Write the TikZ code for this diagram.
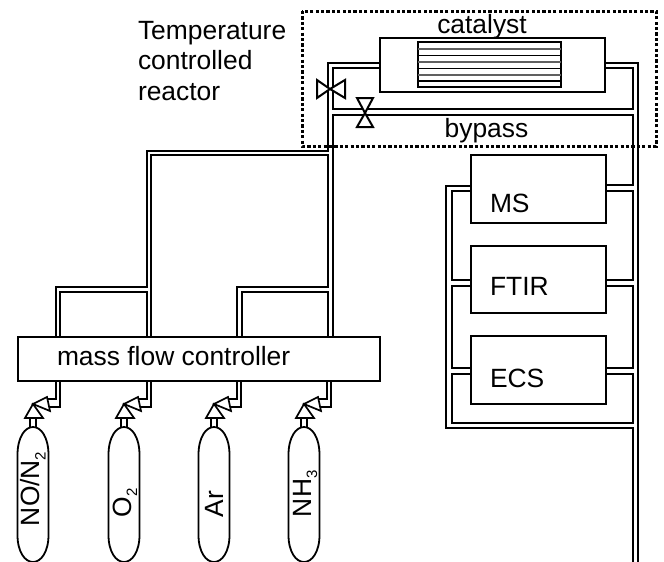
\documentclass[tikz,border=0pt]{standalone}
\usepackage{fontspec}
\setmainfont{Liberation Sans}
\newcommand{\subdig}[1]{\raisebox{-6pt}{\fontsize{15}{15}\selectfont #1}}
\tikzset{
  x=1pt,y=-1pt,
  lbl/.style={inner sep=0pt,outer sep=0pt,font=\fontsize{26.4}{30.5}\selectfont},
  box/.style={draw,line width=1.7pt,fill=white,inner sep=0pt,outer sep=0pt},
  pipe/.style={line width=1.7pt,line join=miter},
  valve/.style={draw,line width=2pt,fill=white,line join=miter},
  bottle/.style={draw,line width=1.8pt,fill=white},
  reactor/.style={line width=3pt,dash pattern=on 3.2pt off 2.2pt},
  stripe/.style={line width=1.4pt},
  stripeg/.style={line width=2.2pt,gray!75!black},
}
\begin{document}
\begin{tikzpicture}
\useasboundingbox (0,0) rectangle (664,562);
% boxes
\node[box,minimum width=225pt,minimum height=54pt] (cat) at (492.5,65) {};
\node[box,minimum width=135pt,minimum height=68pt] (ms) at (538.5,189) {};
\node[box,minimum width=135pt,minimum height=67pt] (ftir) at (538.5,279.5) {};
\node[box,minimum width=135pt,minimum height=68pt] (ecs) at (538.5,370) {};
\node[box,minimum width=362pt,minimum height=44pt] (mfc) at (199,359) {};
\coordinate (end1) at (633,562);
\coordinate (end2) at (638,562);
% catalyst bed
\node[draw,line width=1.4pt,inner sep=0pt,outer sep=0pt,minimum width=143pt,minimum height=45pt] (bed) at (489.5,64.5) {};
\foreach \yy in {55.5,68.5,81} \draw[stripe] (bed.west |- 0,\yy) -- (bed.east |- 0,\yy);
\foreach \yy in {49,62,75} \draw[stripeg] (bed.west |- 0,\yy) -- (bed.east |- 0,\yy);
% reactor pipes
\draw[pipe] (cat.west |- 0,63) -- (328,63) -- (328,151) -- (147,151) -- (147,287) -- (56,287) -- (mfc.north -| 56,0);
\draw[pipe] (cat.west |- 0,68) -- (333,68) -- (333,109) -- (633,109) -- (633,68) -- (cat.east |- 0,68);
\draw[pipe] (cat.east |- 0,63) -- (638,63) -- (end2);
\draw[pipe] (mfc.north -| 333,0) -- (333,115) -- (633,115) -- (633,185) -- (ms.east |- 0,185);
\draw[pipe] (mfc.north -| 151,0) -- (151,155) -- (328,155) -- (328,287) -- (237,287) -- (mfc.north -| 237,0);
\draw[pipe] (mfc.north -| 60,0) -- (60,292) -- (147,292) -- (mfc.north -| 147,0);
\draw[pipe] (mfc.north -| 242,0) -- (242,292) -- (328,292) -- (mfc.north -| 328,0);
% analyser pipes
\draw[pipe] (ms.west |- 0,186) -- (446,186) -- (446,428) -- (633,428) -- (end1);
\draw[pipe] (ms.west |- 0,191) -- (452,191) -- (452,280) -- (ftir.west |- 0,280);
\draw[pipe] (ftir.west |- 0,286) -- (452,286) -- (452,368) -- (ecs.west |- 0,368);
\draw[pipe] (ecs.west |- 0,374) -- (452,374) -- (452,423) -- (633,423) -- (633,374) -- (ecs.east |- 0,374);
\draw[pipe] (ms.east |- 0,191) -- (633,191) -- (633,280) -- (ftir.east |- 0,280);
\draw[pipe] (ftir.east |- 0,286) -- (633,286) -- (633,368) -- (ecs.east |- 0,368);
% valves
\coordinate (v1) at (330,89);
\coordinate (v2) at (365,113);
\draw[valve] (v1) -- (317,80) -- (317,98) -- cycle;
\draw[valve] (v1) -- (345,80) -- (345,98) -- cycle;
\draw[valve] (v2) -- (357,98) -- (373,98) -- cycle;
\draw[valve] (v2) -- (357,127) -- (373,127) -- cycle;
% gas bottles
\foreach \nm/\c/\txt/\by/\bx in {a/33/{NO/N\subdig{2}}/526/39.5,b/124/{O\subdig{2}}/517/131,c/214/{Ar}/517/223,d/304/{NH\subdig{3}}/517/311}{
  \coordinate (tip\nm) at (\c,404);
  \draw[pipe] (mfc.south -| \c+23,0) -- (\c+23,399) -- (\c+14,399);
  \draw[pipe] (mfc.south -| \c+27,0) -- (\c+27,407) -- (\c+14,407);
  \draw[valve,line width=1.7pt] (tip\nm) -- (\c+14,397) -- (\c+17,411) -- cycle;
  \draw[valve,line width=1.7pt] (tip\nm) -- (\c-8,418) -- (\c+10,418) -- cycle;
  \draw[pipe,line width=1.4pt] (\c-3,418) -- (\c-3,427) (\c+3,418) -- (\c+3,427);
  \draw[bottle] (\c-15.5,455) .. controls (\c-15.5,437) and (\c-8,427) .. (\c,427)
     .. controls (\c+8,427) and (\c+15.5,437) .. (\c+15.5,455)
     -- (\c+15.5,535) .. controls (\c+15.5,552) and (\c+8,562) .. (\c,562)
     .. controls (\c-8,562) and (\c-15.5,552) .. (\c-15.5,535) -- cycle;
  \node[lbl,rotate=90,anchor=base west] (gas\nm) at (\bx,\by) {\txt};
}
% reactor outline
\draw[reactor] (302,11) rectangle (656,146);
% labels
\node[lbl,anchor=base west] (t1) at (138,39) {Temperature};
\node[lbl,anchor=base west] (t2) at (138,69.5) {controlled};
\node[lbl,anchor=base west] (t3) at (138,100) {reactor};
\node[lbl,anchor=base] (lcat) at (482,33) {catalyst};
\node[lbl,anchor=base] (lby) at (486.5,137.5) {bypass};
\node[lbl,anchor=base west] (lms) at (490,212) {MS};
\node[lbl,anchor=base west] (lft) at (490,295) {FTIR};
\node[lbl,anchor=base west] (lec) at (490,387) {ECS};
\node[lbl,anchor=base west] (lmf) at (57,365) {mass flow controller};
\end{tikzpicture}
\end{document}
